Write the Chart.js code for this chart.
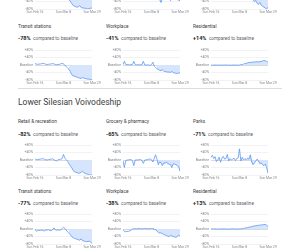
<!DOCTYPE html>
<html>
<head>
<meta charset="utf-8">
<script src="https://cdn.jsdelivr.net/npm/chart.js@4.4.1/dist/chart.umd.min.js"></script>
<style>
    body { margin: 0; width: 300px; height: 250px; overflow: hidden; background: #fff; position: relative; font-family: Roboto, sans-serif; }
    .txt { position: absolute; white-space: nowrap; line-height: 1; }
    .title { font-size: 4.8px; color: #3c4043; }
    .pct { font-size: 4.7px; color: #5f6368; }
    .pct b { font-size: 5.5px; color: #202124; margin-right: 2.5px; }
    .head { font-size: 8.5px; color: #3c4043; }
    .sep { position: absolute; left: 18px; width: 264px; top: 88px; height: 0; border-top: 0.6px solid #dadce0; }
    canvas { position: absolute; }
</style>
</head>
<body>
<div class="sep"></div>
<div class="txt head" style="left:18px;top:97.5px">Lower Silesian Voivodeship</div>
<script>
const days = ['Feb 16', 'Feb 17', 'Feb 18', 'Feb 19', 'Feb 20', 'Feb 21', 'Feb 22', 'Feb 23', 'Feb 24', 'Feb 25',
    'Feb 26', 'Feb 27', 'Feb 28', 'Feb 29', 'Mar 1', 'Mar 2', 'Mar 3', 'Mar 4', 'Mar 5', 'Mar 6', 'Mar 7',
    'Mar 8', 'Mar 9', 'Mar 10', 'Mar 11', 'Mar 12', 'Mar 13', 'Mar 14', 'Mar 15', 'Mar 16', 'Mar 17', 'Mar 18',
    'Mar 19', 'Mar 20', 'Mar 21', 'Mar 22', 'Mar 23', 'Mar 24', 'Mar 25', 'Mar 26', 'Mar 27', 'Mar 28', 'Mar 29'];
const tickIndex = [0, 21, 42];
const tickLabels = ['Sun Feb 16', 'Sun Mar 8', 'Sun Mar 29'];
const yTicks = [-80, -40, 0, 40, 80];
// shaded part starts here
const fillStart = 25;

// Poland (only bottom of first row is on screen)
const plRetail = [3, 2, 4, 5, 6, 8, 10, 3, 1, 2, 4, 5, 7, 9, 2, 0, 1, 3, 5, 7, 12, 20, 8, -5, -20, -30, -38, -50, -60, -65, -68, -70, -68, -62, -72, -74, -75, -76, -78, -80, -78, -76, -74];
const plGrocery = [0, -5, 2, 3, 4, 5, 6, -3, -2, 2, 3, 4, 6, 8, -5, 0, 3, 4, 5, 8, 10, 0, 5, 15, 25, 8, -20, -30, -45, -25, -15, -20, -18, -22, -25, -35, -28, -25, -25, -28, -30, -32, -36];
const plParks = [5, 10, 3, 0, -5, 2, 8, 12, 5, 0, -3, 2, 6, 15, 20, 3, -2, 0, 5, 10, 25, 8, 0, -5, -10, -20, -15, 5, 10, -5, -20, -30, -40, -35, -50, -55, -45, -60, -65, -70, -75, -80, -70];
const plTransit = [8, 5, 4, 5, 6, 7, 9, 7, 4, 3, 4, 5, 6, 8, 6, 3, 2, 3, 4, 6, 9, 7, -3, -8, -15, -22, -35, -50, -58, -60, -62, -65, -68, -70, -72, -66, -70, -72, -74, -75, -76, -77, -78];
const plWorkplace = [2, 20, 3, 2, 2, 1, 2, 3, 20, 2, 1, 2, 1, 2, 3, 20, 1, 0, 1, 0, -2, 2, 15, -5, -12, -20, -24, -28, -30, -25, -32, -35, -36, -38, -37, -40, -34, -40, -42, -44, -45, -43, -41];
const plResidential = [0, -1, 0, 0, 0, 0, -1, 0, -1, 0, 0, 0, 0, -1, 0, -1, 0, 0, 0, 0, -1, 0, 2, 3, 5, 7, 9, 12, 14, 14, 15, 16, 16, 17, 18, 17, 18, 20, 22, 24, 23, 20, 14];

// Lower Silesian Voivodeship
const dsRetail = [5, 3, 2, 4, 5, 6, 8, 3, 2, 0, 3, 4, 5, 7, 1, -2, -5, 2, 3, 4, 8, 30, 10, 3, -5, -20, -30, -40, -55, -62, -65, -68, -70, -70, -65, -60, -68, -72, -74, -76, -80, -80, -80];
const dsGrocery = [-5, -40, -3, 0, 1, 2, 3, -5, -30, 0, 1, 0, 2, 3, -3, -18, 0, 1, 2, 4, 6, 2, -10, 8, 28, 5, -25, -10, -15, -30, -15, -18, -10, -20, -22, -25, -40, -20, -22, -25, -30, -35, -60];
const dsParks = [15, 25, 8, 18, -8, 0, 15, -12, 10, 20, 5, 8, 30, -5, 8, 0, 5, 10, -3, 8, 12, 60, -5, 15, 0, 8, 2, 10, 5, 28, -10, -25, -15, -5, 5, -5, -20, -15, -25, -30, -22, -40, -71];
const dsTransit = [0, -12, -8, -7, -7, -6, -8, -10, -6, -5, -4, -8, -9, -3, 6, -4, -6, -5, -6, -4, 2, 10, 3, -5, -15, -22, -30, -40, -45, -50, -52, -55, -57, -60, -52, -62, -64, -66, -68, -66, -65, -70, -77];
const dsWorkplace = [-3, -12, -14, -13, -12, -10, -5, 0, 1, 2, 1, 2, 3, 2, 1, 2, 3, 2, 2, 1, 2, 3, 2, 0, -4, -10, -18, -22, -20, -25, -28, -32, -35, -38, -40, -34, -37, -40, -42, -44, -40, -33, -38];
const dsResidential = [0, 1, 1, 1, 0, 0, 0, 0, 1, 1, 1, 0, 0, 0, 0, 1, 1, 1, 0, 0, 0, 1, 1, 2, 3, 5, 7, 8, 10, 11, 13, 15, 17, 18, 19, 20, 21, 22, 23, 24, 25, 22, 13];

const colLeft = [18, 106, 194];

function addText(cls, x, y, html) {
    const d = document.createElement('div');
    d.className = 'txt ' + cls;
    d.style.left = x + 'px';
    d.style.top = y + 'px';
    d.innerHTML = html;
    document.body.appendChild(d);
}

function drawChart(col, top, values) {
    const canvas = document.createElement('canvas');
    canvas.width = 86;
    canvas.height = 40;
    canvas.style.left = (colLeft[col] - 2) + 'px';
    canvas.style.top = top + 'px';
    document.body.appendChild(canvas);

    new Chart(canvas, {
        type: 'line',
        data: {
            labels: days,
            datasets: [{
                data: values,
                borderColor: '#5a96f6',
                borderWidth: 0.8,
                pointRadius: 0,
                fill: false,
                order: 1
            }, {
                data: values.map((v, i) => i >= fillStart ? v : null),
                borderColor: 'transparent',
                borderWidth: 0,
                pointRadius: 0,
                backgroundColor: '#d6e5fc',
                fill: 'origin',
                order: 2
            }]
        },
        options: {
            responsive: false,
            animation: false,
            devicePixelRatio: 1,
            layout: { padding: { top: 4, right: 10, left: 0, bottom: 0 } },
            plugins: { legend: { display: false }, tooltip: { enabled: false } },
            scales: {
                x: {
                    grid: { display: false, drawTicks: false },
                    border: { display: false },
                    ticks: {
                        autoSkip: false, maxRotation: 0, minRotation: 0, padding: 1,
                        color: '#80868b', font: { size: 3.4, family: 'Roboto' },
                        callback: (v, i) => {
                            const k = tickIndex.indexOf(i);
                            return k >= 0 ? tickLabels[k] : '';
                        }
                    },
                    afterFit: s => { s.height = 6; }
                },
                y: {
                    min: yTicks[0], max: yTicks[yTicks.length - 1],
                    afterBuildTicks: s => { s.ticks = yTicks.map(v => ({ value: v })); },
                    grid: {
                        drawTicks: false, lineWidth: 0.6,
                        color: c => c.tick.value === 0 ? '#bdc1c6' : '#e8eaed'
                    },
                    border: { display: false },
                    ticks: {
                        padding: 2, color: '#80868b', font: { size: 3.5, family: 'Roboto' },
                        callback: v => v === 0 ? 'Baseline' : (v > 0 ? '+' : '') + v + '%'
                    },
                    afterFit: s => { s.width = 19; }
                }
            }
        }
    });
}

// row 1 (mostly above the window)
drawChart(0, -25, plRetail);
drawChart(1, -25, plGrocery);
drawChart(2, -25, plParks);

// row 2
addText('title', 18, 24.5, 'Transit stations');
addText('title', 106, 24.5, 'Workplace');
addText('title', 193, 24.5, 'Residential');
addText('pct', 18, 36.3, '<b>-78%</b>compared to baseline');
addText('pct', 106, 36.3, '<b>-41%</b>compared to baseline');
addText('pct', 193, 36.3, '<b>+14%</b>compared to baseline');
drawChart(0, 46, plTransit);
drawChart(1, 46, plWorkplace);
drawChart(2, 46, plResidential);

// Lower Silesian rows
addText('title', 18, 120, 'Retail &amp; recreation');
addText('title', 106, 120, 'Grocery &amp; pharmacy');
addText('title', 193, 120, 'Parks');
addText('pct', 18, 131.6, '<b>-82%</b>compared to baseline');
addText('pct', 106, 131.6, '<b>-65%</b>compared to baseline');
addText('pct', 193, 131.6, '<b>-71%</b>compared to baseline');
drawChart(0, 141, dsRetail);
drawChart(1, 141, dsGrocery);
drawChart(2, 141, dsParks);

addText('title', 18, 189.5, 'Transit stations');
addText('title', 106, 189.5, 'Workplace');
addText('title', 193, 189.5, 'Residential');
addText('pct', 18, 201.3, '<b>-77%</b>compared to baseline');
addText('pct', 106, 201.3, '<b>-38%</b>compared to baseline');
addText('pct', 193, 201.3, '<b>+13%</b>compared to baseline');
drawChart(0, 210, dsTransit);
drawChart(1, 210, dsWorkplace);
drawChart(2, 210, dsResidential);
</script>
</body>
</html>
